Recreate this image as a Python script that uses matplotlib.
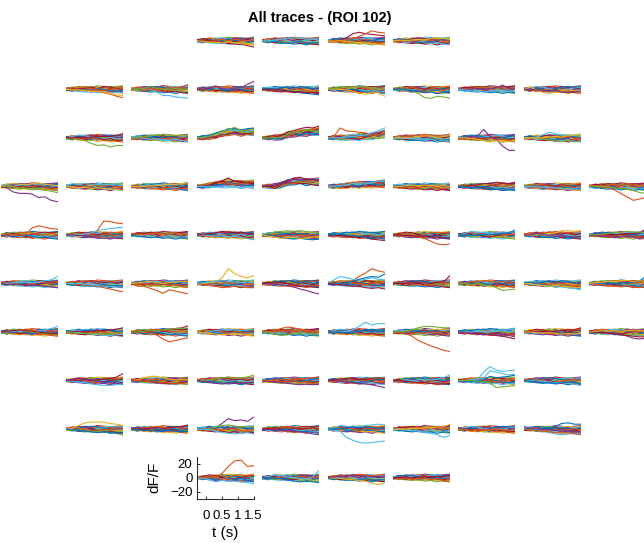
import matplotlib.pyplot as plt
import numpy as np

plt.rcParams['font.family'] = ['Liberation Sans', 'DejaVu Sans']

# time axis (s)
t = [-0.3, -0.1, 0.1, 0.3, 0.5, 0.7, 0.9, 1.1, 1.3, 1.5]

# matlab default colour order
colors = ['#0072BD', '#D95319', '#EDB120', '#7E2F8E', '#77AC30', '#4DBEEE', '#A2142F']

# grid of panels: first and last used column in every row
first_col = [3, 1, 1, 0, 0, 0, 0, 1, 1, 3]
last_col = [6, 8, 8, 9, 9, 9, 9, 8, 8, 6]

# background traces (dF/F) shared by the panels
base = [
    [0, 2, -1, 3, 0, -3, 1, 0, -2, 1],
    [1, 0, 3, 2, 4, 3, 1, 3, 0, 2],
    [-1, -3, 0, -2, -4, -3, -1, -4, -3, -3],
    [0, 3, 2, 4, 3, 5, 4, 3, 4, 5],
    [0, -2, -3, -4, -3, -5, -4, -6, -4, -5],
    [2, 1, 0, 2, 3, 1, 4, 3, 1, 0],
    [-2, -1, -2, 0, -2, 1, 0, -2, -3, -1],
    [0, 2, 4, 3, 1, 0, -2, 0, 2, 3],
    [1, -2, 0, -3, -1, 0, -3, -1, -4, -3],
    [0, 0, 2, 0, -2, 1, 3, 4, 3, 4],
    [-1, 0, -3, -1, 0, -2, -4, -3, -5, -6],
    [0, 2, 0, 3, 4, 3, 1, 0, 2, 0],
    [1, 3, 1, 0, -2, -3, -1, 0, 2, 0],
    [0, -2, 1, -1, 0, 3, 0, 2, -1, 0],
    [0, 1, -1, 1, 2, 0, 2, 1, 0, 1],
    [0, -1, 1, -2, -1, -2, 0, -1, 1, -1],
]

# panels where the whole bundle drifts up
drift = {
    (2, 3): [0, 0, 1, 3, 6, 8, 9, 8, 9, 9],
    (2, 4): [0, 0, 0, 1, 4, 6, 7, 8, 9, 10],
    (2, 5): [0, 0, 0, 0, 1, 1, 2, 3, 4, 6],
    (3, 3): [0, 0, 1, 3, 4, 5, 4, 4, 4, 4],
    (3, 4): [0, 0, 0, 2, 5, 7, 8, 7, 7, 7],
    (3, 5): [0, 0, 0, 1, 2, 2, 3, 3, 4, 4],
}

# stand-out traces per panel: (colour index, values)
extras = {
    (0, 3): [(6, [0, 1, 0, -1, -2, -4, -5, -5, -7, -9]), (2, [0, -1, -2, -2, -3, -2, -3, -4, -5, -6])],
    (0, 4): [(5, [0, 0, 1, 2, 3, 4, 4, 2, 2, 1])],
    (0, 5): [(6, [0, 0, 0, 4, 10, 12, 10, 9, 8, 7]), (1, [0, 0, 0, 1, 3, 6, 10, 14, 12, 11]),
             (2, [0, -1, 0, -1, -2, -3, -3, -4, -5, -5])],
    (0, 6): [(2, [0, 1, 0, 1, 2, 1, 3, 4, 3, 2])],
    (1, 1): [(1, [0, 0, -1, -1, -2, -3, -5, -7, -10, -12]), (2, [0, -1, -1, -2, -3, -3, -4, -6, -8, -9])],
    (1, 2): [(5, [0, 0, -1, 0, -4, -9, -9, -11, -12, -13]), (1, [0, 0, 0, 1, 0, 1, 2, 2, 3, 7]),
             (4, [0, 0, 1, 4, 1, 0, 0, 1, 0, 0])],
    (1, 3): [(3, [0, 0, 2, 5, 1, 0, 2, 2, 7, 11])],
    (1, 4): [(0, [0, -1, 0, -2, -2, -3, -5, -6, -7, -8]), (6, [0, 0, -1, -1, -3, -4, -4, -5, -5, -6])],
    (1, 5): [(2, [0, 0, 0, -1, -3, -6, -7, -4, -5, -10]), (4, [0, 1, 2, 3, 3, 4, 3, 2, 1, 0])],
    (1, 6): [(4, [0, 0, 0, -2, -6, -12, -13, -10, -11, -13]), (0, [0, 0, -1, -2, -3, -4, -4, -6, -5, -5])],
    (1, 7): [(3, [0, 0, 0, 1, 0, 1, 2, 6, 1, 0]), (5, [0, -1, -2, -3, -4, -3, -2, -1, -3, -2])],
    (1, 8): [(2, [0, 3, -1, -4, -6, -4, -2, -1, -2, -3]), (3, [0, 0, -1, -2, -3, -2, -4, -5, -4, -3])],
    (2, 1): [(4, [0, -1, -2, -4, -8, -11, -10, -13, -11, -11]), (6, [0, 0, 1, 0, 1, 2, 2, 2, 3, 6])],
    (2, 2): [(5, [0, 0, -1, -2, -1, -3, -4, -2, -4, -6]), (4, [0, 1, 2, 3, 4, 5, 4, 3, 4, 3])],
    (2, 3): [(4, [0, 0, 2, 5, 9, 12, 15, 10, 11, 6])],
    (2, 4): [(6, [0, 0, 1, 3, 8, 10, 13, 15, 14, 17]), (4, [0, 0, 0, 1, 5, 9, 7, 12, 10, 8])],
    (2, 5): [(1, [0, 2, 14, 10, 9, 8, 7, 5, 4, 6]), (5, [0, 0, 0, 1, 2, 3, 4, 7, 10, 14])],
    (2, 6): [(5, [0, 0, -1, -1, -2, -3, -2, -5, -4, -6]), (2, [0, 0, 0, 1, 2, 3, 2, 1, 2, 3])],
    (2, 7): [(3, [0, 0, 1, 2, 12, 2, -2, -12, -18, -18]), (2, [0, 0, -1, -2, -4, -6, -4, -6, -5, -4])],
    (2, 8): [(5, [0, 0, 1, 4, 8, 6, 4, 4, 3, 2]), (4, [0, 0, -1, -2, -3, -4, -5, -4, -6, -4]),
             (2, [0, 0, 0, 0, 1, 2, 1, 3, 4, 5])],
    (3, 0): [(3, [0, -2, -8, -10, -10, -11, -16, -15, -20, -22]), (4, [0, 0, -1, -2, -3, -4, -3, -5, -7, -9]),
             (2, [0, 3, 4, 3, 2, 4, 5, 3, 2, 1])],
    (3, 1): [(5, [0, 4, 3, 4, 3, 3, 2, 3, 2, 1]), (2, [0, -1, -2, -1, -3, -2, -3, -4, -4, -6])],
    (3, 2): [(5, [0, 0, 1, 4, 3, 2, 2, 3, 4, 6]), (2, [0, 0, 0, 1, 1, 2, 3, 3, 4, 5])],
    (3, 3): [(6, [0, 0, 2, 5, 8, 12, 7, 6, 5, 5]), (5, [0, 0, 0, -1, -2, -2, -1, -3, -2, -3])],
    (3, 4): [(6, [0, 0, 0, 3, 8, 11, 13, 10, 10, 9]), (3, [0, 1, 2, 4, 9, 10, 9, 11, 10, 8])],
    (3, 5): [(5, [0, 0, 1, 2, 4, 5, 3, 6, 7, 9])],
    (3, 6): [(2, [0, 0, 1, 2, 1, 2, 1, 2, 1, 0])],
    (3, 7): [(6, [0, 0, 1, 2, 4, 4, 6, 5, 4, 6]), (0, [0, -1, -2, -2, -3, -5, -4, -6, -5, -5])],
    (3, 8): [(1, [0, -1, -2, -2, -3, -4, -4, -5, -5, -5]), (5, [0, 0, -1, -1, -2, -2, -3, -4, -4, -4])],
    (3, 9): [(1, [0, 0, -1, -2, -5, -10, -15, -20, -18, -16]), (4, [0, 0, 0, -1, -2, -3, -4, -6, -9, -10])],
    (4, 0): [(1, [0, 0, 0, -1, 1, 10, 13, 11, 9, 8])],
    (4, 1): [(1, [0, 0, 0, -1, 0, 7, 20, 19, 17, 16]), (5, [0, 0, 0, 1, 3, 6, 8, 9, 10, 11]),
             (3, [0, 0, -1, -1, -2, -3, -5, -4, -5, -5])],
    (4, 3): [(5, [0, 0, -1, -2, -1, -3, -2, -4, -5, -7]), (6, [0, 1, 2, 3, 5, 4, 3, 4, 2, 2])],
    (4, 4): [(4, [0, 2, 4, 5, 6, 5, 6, 5, 4, 3]), (0, [0, -1, -3, -4, -5, -6, -5, -6, -7, -6]),
             (2, [0, -2, -3, -5, -4, -3, -5, -4, -3, -2])],
    (4, 5): [(6, [0, 0, -1, -2, -3, -4, -4, -6, -7, -8]), (0, [0, 0, 1, 0, -1, -2, -3, -5, -4, -6])],
    (4, 6): [(1, [0, -2, -2, -2, -3, -5, -9, -13, -14, -13]), (6, [0, 0, -1, -1, -2, -2, -3, -3, -4, -5])],
    (4, 7): [(5, [0, 2, 5, 4, 3, 2, 3, 4, 3, 5]), (0, [0, 0, -1, 0, 1, 0, 1, 2, 3, 7])],
    (4, 8): [(2, [0, 0, 0, 1, 2, 3, 6, 6, 5, 6]), (3, [0, 0, 2, 1, -1, -2, -1, -2, -3, -2])],
    (4, 9): [(6, [0, 0, 0, 1, 0, 1, 2, 2, 3, 9]), (3, [0, -1, -2, -3, -4, -3, -2, -3, -6, -3]),
             (4, [0, 0, 1, 2, 3, 4, 5, 4, 4, 3])],
    (5, 0): [(5, [0, 0, 1, 1, 2, 1, 2, 4, 5, 10]), (3, [0, -1, -1, -2, -3, -2, -3, -4, -5, -6])],
    (5, 1): [(1, [0, 0, -1, -2, -3, -4, -6, -8, -10, -12]), (5, [0, 0, 0, -1, -2, -3, -4, -4, -5, -5])],
    (5, 2): [(1, [0, -4, -4, -7, -10, -14, -9, -11, -13, -15]), (2, [0, 1, 2, 3, 1, 0, 1, 2, 3, 3])],
    (5, 3): [(2, [0, 0, 1, 2, 8, 21, 14, 10, 8, 11]), (1, [0, -1, -2, -4, -6, -5, -4, -5, -6, -6]),
             (5, [0, 1, 2, 3, 4, 3, 2, 1, 2, 1])],
    (5, 4): [(3, [0, 0, -1, -2, -3, -5, -8, -10, -13, -15]), (6, [0, 1, 2, 1, 0, -2, -4, -4, -5, -5])],
    (5, 5): [(1, [0, 0, -1, 1, 4, 10, 15, 21, 18, 16]), (5, [0, 5, 10, 8, 6, 4, 6, 8, 6, 5]),
             (0, [0, 0, 0, 1, 3, 6, 8, 10, 9, 13]), (6, [0, -1, -2, -3, -4, -4, -6, -7, -6, -8])],
    (5, 6): [(6, [0, 0, 0, 1, 0, 1, 0, 2, 2, 11])],
    (5, 7): [(4, [0, 0, -1, -1, -2, -3, -6, -10, -9, -8])],
    (5, 8): [(0, [0, 0, -1, -2, -3, -4, -4, -6, -7, -8]), (5, [0, -1, -2, -3, -4, -5, -5, -6, -7, -9]),
             (2, [0, 0, -2, -3, -4, -3, -4, -5, -5, -6])],
    (5, 9): [(0, [0, 0, 0, 1, 0, 1, 1, 2, 4, 10]), (1, [0, -1, -2, -3, -4, -4, -3, -5, -6, -5]),
             (2, [0, 1, 2, 3, 3, 4, 4, 3, 4, 3])],
    (6, 0): [(5, [0, 0, 1, 2, 1, 0, 1, 3, 5, 8]), (4, [0, 1, 4, 3, 1, 0, -1, -2, -3, -4]),
             (6, [0, 1, 2, 3, 2, 1, 0, -1, -2, -3])],
    (6, 1): [(5, [0, 0, -1, -2, -3, -4, -5, -5, -4, -3]), (6, [0, 0, 1, 0, 1, 2, 2, 3, 4, 6]),
             (4, [0, -1, -2, -2, -3, -2, -4, -2, -1, 0])],
    (6, 2): [(1, [0, 0, 0, -1, -4, -10, -14, -12, -10, -8]), (6, [0, 0, 1, 1, 2, 3, 4, 5, 6, 9]),
             (4, [0, 0, 1, 2, 2, 3, 4, 5, 5, 6])],
    (6, 3): [(5, [0, -1, 0, 2, 3, 4, 3, 2, 3, 4]), (2, [0, -1, -2, -3, -4, -3, -2, -3, -4, -3])],
    (6, 4): [(1, [0, 0, 2, 5, 7, 6, 3, 1, 0, -1]), (4, [0, -1, -3, -5, -4, -2, -1, -2, -3, -2])],
    (6, 5): [(5, [0, 0, 0, 1, 3, 8, 14, 10, 12, 12]), (0, [0, 0, -1, -1, 0, 1, 2, 1, 1, 2])],
    (6, 6): [(1, [0, 0, -2, -6, -12, -16, -20, -23, -26, -28]), (4, [0, 0, 1, 3, 6, 8, 8, 7, 6, 6])],
    (6, 7): [(6, [0, 0, -1, -2, -3, -4, -5, -6, -8, -10]), (5, [0, 0, 0, 1, 0, 1, 2, 3, 3, 6]),
             (3, [0, -1, -2, -3, -4, -3, -4, -6, -5, -7])],
    (6, 8): [(6, [0, 0, 0, 1, 0, 1, 2, 3, 3, 6]), (2, [0, 0, -1, -2, -1, -2, -3, -2, -3, -2])],
    (6, 9): [(3, [0, 0, -1, -1, -2, -3, -6, -9, -10, -9]), (6, [0, 0, -1, -2, -3, -4, -5, -6, -7, -7]),
             (2, [0, 1, 2, 1, 2, 1, 2, 3, 2, 1])],
    (7, 1): [(6, [0, 0, 0, 1, 0, 1, 2, 3, 5, 10]), (5, [0, -1, -2, -3, -5, -6, -7, -7, -6, -5]),
             (3, [0, 1, 3, 2, 1, -1, -2, -3, -4, -3])],
    (7, 2): [(2, [0, 1, 4, 6, 6, 4, 2, 1, 2, 1]), (6, [0, 0, -1, -2, -3, -4, -5, -4, -3, -2]),
             (1, [0, 0, -1, -1, -2, -3, -3, -5, -4, -3])],
    (7, 3): [(4, [0, 0, 1, 2, 4, 5, 3, 4, 5, 8]), (3, [0, -1, -2, -4, -5, -4, -3, -4, -3, -2])],
    (7, 4): [(3, [0, -1, -2, -3, -4, -5, -6, -5, -6, -5]), (1, [0, 0, 1, 2, 1, 2, 3, 3, 4, 5])],
    (7, 5): [(3, [0, 0, -1, -2, -3, -4, -5, -6, -8, -10]), (6, [0, 1, 2, 3, 2, 1, 2, 3, 4, 3])],
    (7, 6): [(5, [0, 0, 1, 0, 1, 2, 1, 2, 4, 8]), (6, [0, 0, -1, -2, -3, -3, -4, -5, -5, -4])],
    (7, 7): [(5, [0, 0, 0, 1, 12, 20, 15, 13, 14, 15]), (5, [0, 0, 1, 2, 3, 14, 12, 10, 8, 9]),
             (0, [0, 0, 0, -1, 1, 6, 4, 5, 6, 8]), (4, [0, 0, 0, -1, -2, -3, -10, -9, -8, -7])],
    (7, 8): [(5, [0, 0, -1, -1, -2, -3, -3, -4, -5, -7]), (0, [0, -1, -2, -3, -3, -4, -3, -2, -3, -4])],
    (8, 1): [(2, [0, 1, 5, 9, 10, 10, 10, 8, 7, 5]), (4, [0, -1, -2, -3, -4, -3, -4, -5, -6, -9]),
             (0, [0, -1, -2, -3, -4, -5, -4, -5, -6, -6])],
    (8, 2): [(6, [0, 0, 0, 1, 2, 1, 2, 3, 4, 6]), (0, [0, -1, -2, -2, -3, -3, -2, -3, -4, -3])],
    (8, 3): [(3, [0, 0, 3, 2, 8, 15, 12, 13, 11, 17]), (4, [0, 0, 1, 3, 5, 6, 4, 3, 4, 3]),
             (5, [0, 0, -1, -3, -5, -6, -7, -6, -5, -7])],
    (8, 4): [(3, [0, 0, -1, -2, -2, -3, -4, -5, -7, -8]), (6, [0, 1, 0, 1, 2, 1, 0, 1, 2, 0])],
    (8, 5): [(5, [0, -1, -3, -12, -16, -19, -20, -19, -18, -17]), (5, [0, 2, 5, 4, 3, 4, 5, 6, 7, 6]),
             (0, [0, 0, 1, 2, 3, 2, 3, 2, 1, 2])],
    (8, 6): [(5, [0, 0, -1, -2, -3, -5, -6, -8, -12, -9]), (2, [0, 0, 0, 1, 1, 2, 2, 3, 3, 7])],
    (8, 7): [(1, [0, -1, -2, -1, -2, -1, 0, -1, -2, -1])],
    (8, 8): [(0, [0, 0, -1, 0, 1, 4, 8, 9, 7, 7]), (5, [0, -1, -2, -3, -5, -7, -8, -7, -6, -7]),
             (1, [0, -1, -2, -3, -4, -5, -6, -5, -7, -8]), (3, [4, 1, 3, 0, -1, -2, -1, -2, -3, -4])],
    (9, 3): [(1, [0, 0, 0, 0, 6, 16, 24, 25, 16, 17]), (5, [0, -1, -3, -6, -4, -5, -5, -6, -7, -9])],
    (9, 4): [(5, [0, 2, 4, 3, 1, 0, -1, -2, 1, 10]), (0, [0, 0, -1, -2, -3, -5, -6, -5, -6, -7])],
    (9, 5): [(2, [0, 0, -1, -2, -3, -4, -5, -8, -10, -7]), (3, [0, 1, 2, 3, 2, 3, 2, 1, 2, 1])],
    (9, 6): [(6, [0, 0, 1, 0, 1, 2, 1, 2, 1, 3])],
}

W, H = 644, 543
fig = plt.figure(figsize=(W / 100, H / 100), dpi=100)

fig.text(320 / W, 1 - 22 / H, 'All traces - (ROI 102)', ha='center', va='baseline',
         fontsize=10.5, fontweight='bold')

for r in range(10):
    for c in range(first_col[r], last_col[r] + 1):
        left = 0.5 + c * 65.4
        mid = 40.7 + r * 48.55
        ax = fig.add_axes([left / W, 1 - (mid + 21) / H, 57 / W, 42 / H])
        k = (3 * r + 5 * c) % len(base)
        d = np.array(drift.get((r, c), [0] * len(t)))
        for i in range(len(base)):
            y = np.array(base[(i + k) % len(base)]) + d
            ax.plot(t, y, color=colors[i % 7], lw=0.8)
        for ci, vals in extras.get((r, c), []):
            ax.plot(t, vals, color=colors[ci], lw=0.8)
        ax.set_xlim(-0.3, 1.5)
        ax.set_ylim(-30, 30)
        if (r, c) == (9, 3):
            ax.spines['top'].set_visible(False)
            ax.spines['right'].set_visible(False)
            ax.spines['left'].set_linewidth(0.6)
            ax.spines['bottom'].set_linewidth(0.6)
            ax.set_xticks([0, 0.5, 1, 1.5])
            ax.set_xticklabels(['0', '0.5', '1', '1.5'])
            ax.set_yticks([-20, 0, 20])
            ax.tick_params(direction='in', length=2.5, width=0.6, labelsize=9.5)
            ax.tick_params(axis='x', pad=8)
            ax.tick_params(axis='y', pad=3)
            ax.set_xlabel('t (s)', fontsize=11, labelpad=3)
            ax.set_ylabel('dF/F', fontsize=11, labelpad=6)
        else:
            ax.axis('off')

fig.savefig('out.png', dpi=100)
